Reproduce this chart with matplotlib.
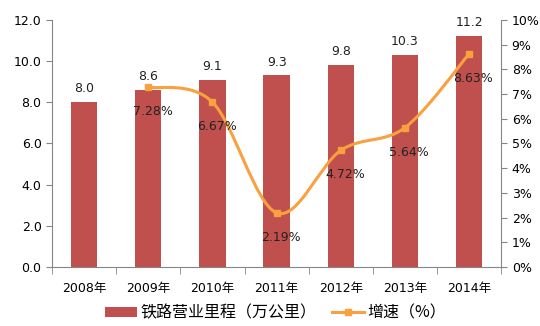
import numpy as np
import matplotlib
matplotlib.use('Agg')
import matplotlib.pyplot as plt
from matplotlib.path import Path
from matplotlib.patches import PathPatch, Patch
from matplotlib.lines import Line2D
from matplotlib.ticker import FuncFormatter, FixedLocator

plt.rcParams['font.family'] = ['DejaVu Sans', 'Noto Sans CJK SC']

years = ['2008年', '2009年', '2010年', '2011年', '2012年', '2013年', '2014年']
mileage = [8.0, 8.6, 9.1, 9.3, 9.8, 10.3, 11.2]   # 万公里
growth_years = [1, 2, 3, 4, 5, 6]                  # index into years (no 2008 value)
growth = [7.28, 6.67, 2.19, 4.72, 5.64, 8.63]      # %

bar_color = '#C0504D'
line_color = '#F9A03F'
axis_color = '#868686'

fig = plt.figure(figsize=(5.4, 3.26), dpi=100)
ax = fig.add_axes([0.0963, 0.181, 0.832, 0.758])
ax2 = ax.twinx()

x = np.arange(len(years))
ax.bar(x, mileage, width=0.41, color=bar_color, zorder=2)
for xi, v in zip(x, mileage):
    ax.annotate('%.1f' % v, (xi, v), xytext=(0, 5), textcoords='offset points',
                ha='center', va='bottom', fontsize=9, color='#222222')

ax.set_xlim(-0.5, len(years) - 0.5)
ax.set_ylim(0, 12)
ax.set_yticks(np.arange(0, 12.1, 2))
ax.yaxis.set_major_formatter(FuncFormatter(lambda v, p: '%.1f' % v))
ax.set_xticks(x)
ax.set_xticklabels(years, fontsize=9)
ax.xaxis.set_minor_locator(FixedLocator(np.arange(-0.5, len(years), 1)))
ax.tick_params(axis='x', which='major', length=0, pad=11)
ax.tick_params(axis='x', which='minor', length=5, color=axis_color, direction='out')
ax.tick_params(axis='y', length=4, color=axis_color, labelsize=9, direction='out')

ax2.set_ylim(0, 10)
ax2.set_yticks(np.arange(0, 11, 1))
ax2.yaxis.set_major_formatter(FuncFormatter(lambda v, p: '%d%%' % v))
ax2.tick_params(axis='y', length=4, color=axis_color, labelsize=9, direction='out')

for a in (ax, ax2):
    a.spines['top'].set_visible(False)
    for s in ('left', 'right', 'bottom'):
        a.spines[s].set_color(axis_color)
ax.spines['right'].set_visible(False)
ax2.spines['left'].set_visible(False)
ax2.spines['bottom'].set_visible(False)

# smoothed line (Catmull-Rom as cubic Bezier through the data points)
pts = np.column_stack([np.array(growth_years, float), np.array(growth, float)])
ext = np.vstack([pts[0], pts, pts[-1]])
verts = [tuple(pts[0])]
codes = [Path.MOVETO]
for i in range(1, len(ext) - 2):
    p0, p1, p2, p3 = ext[i - 1], ext[i], ext[i + 1], ext[i + 2]
    c1 = p1 + (p2 - p0) / 6.0
    c2 = p2 - (p3 - p1) / 6.0
    verts += [tuple(c1), tuple(c2), tuple(p2)]
    codes += [Path.CURVE4] * 3
ax2.add_patch(PathPatch(Path(verts, codes), facecolor='none', edgecolor=line_color,
                        lw=2.2, zorder=3, capstyle='round'))
ax2.plot(growth_years, growth, ls='none', marker='s', ms=4.5, color=line_color, zorder=4)
for xi, v in zip(growth_years, growth):
    ax2.annotate('%.2f%%' % v, (xi, v), xytext=(3, -13), textcoords='offset points',
                 ha='center', va='top', fontsize=9, color='#222222', zorder=5)

handles = [Patch(facecolor=bar_color, edgecolor='none'),
           Line2D([], [], color=line_color, lw=2.2, marker='s', ms=4)]
labels = ['铁路营业里程（万公里）', '增速（%）']
fig.legend(handles, labels, loc='lower center', bbox_to_anchor=(0.51, -0.03), ncol=2,
           frameon=False, handlelength=2.0, handleheight=0.6,
           columnspacing=1.0, handletextpad=0.2,
           prop={'family': ['Noto Sans CJK SC', 'DejaVu Sans'], 'size': 11.5})

fig.savefig('out.png', dpi=100)
